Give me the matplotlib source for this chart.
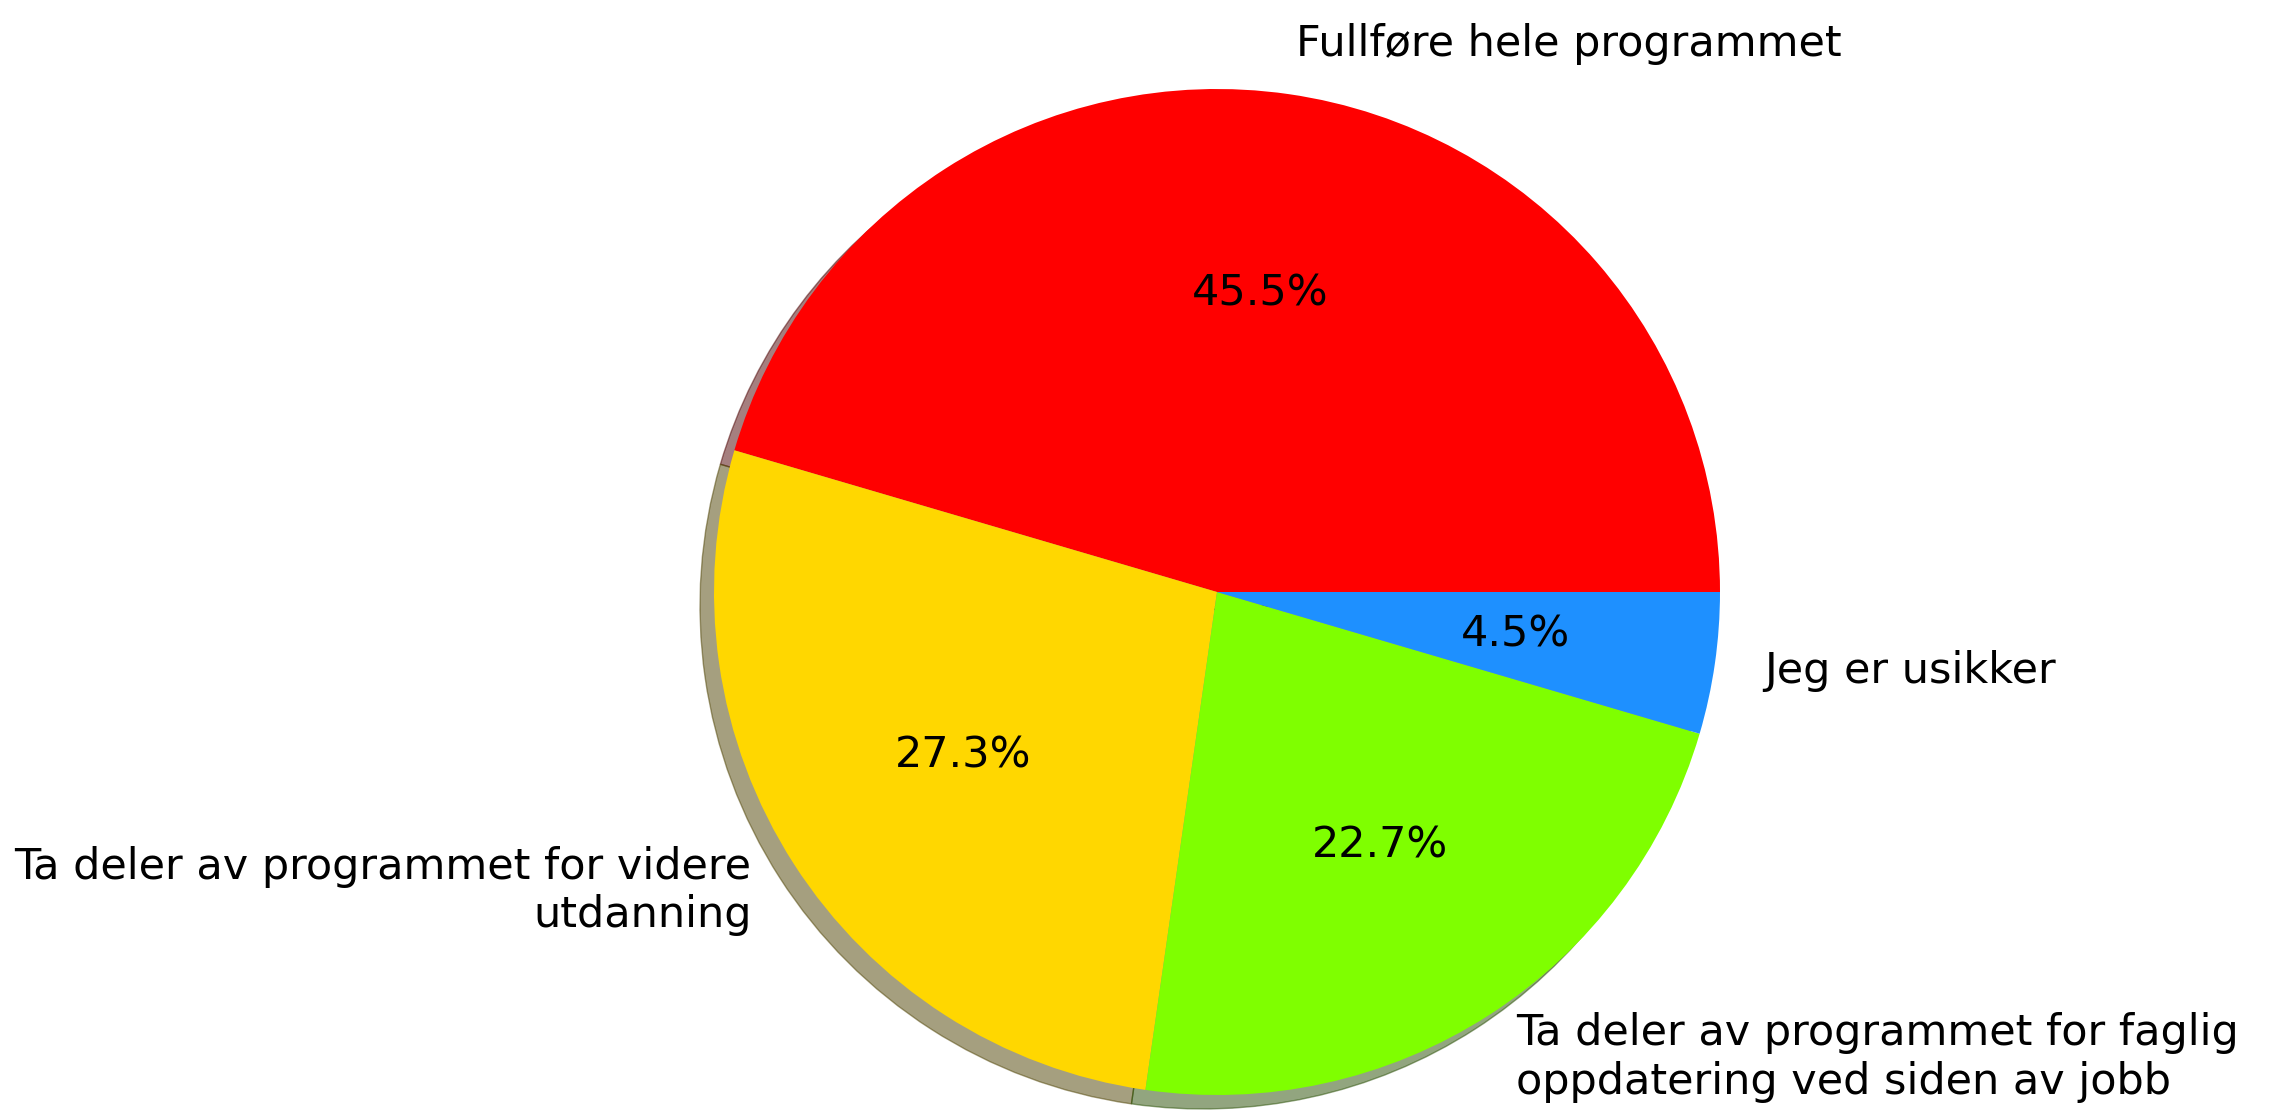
#!/usr/bin/env python3
"""Pie chart of how students plan to use the programme."""

import matplotlib
matplotlib.use("Agg")
import matplotlib.pyplot as plt

labels = [
    "Fullføre hele programmet",
    "Ta deler av programmet for videre\nutdanning",
    "Ta deler av programmet for faglig\noppdatering ved siden av jobb",
    "Jeg er usikker",
]
counts = [10, 6, 5, 1]
colors = ["red", "gold", "chartreuse", "dodgerblue"]


def main():
    plt.rcParams.update({"font.size": 31})

    fig = plt.figure(figsize=(22.74, 11.13), dpi=100)
    ax = fig.add_axes([0, 0, 1, 1])

    ax.pie(counts, labels=labels, colors=colors, autopct="%1.1f%%",
           shadow=True, startangle=0)

    # Equal scale in x and y: 503 px per unit with the centre placed off-middle
    scale = 503.0
    cx, cy = 1217.0, 521.0
    ax.set_xlim(-cx / scale, (2274 - cx) / scale)
    ax.set_ylim(-cy / scale, (1113 - cy) / scale)
    ax.axis("off")

    fig.savefig("out.png", dpi=100)


if __name__ == '__main__':
    main()
